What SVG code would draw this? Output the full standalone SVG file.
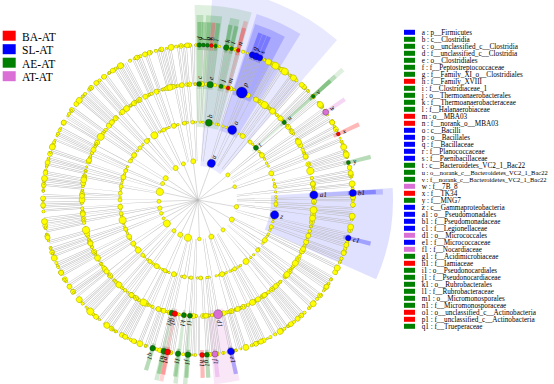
<svg xmlns="http://www.w3.org/2000/svg" width="554" height="384" viewBox="0 0 554 384">
<style>
text{font-family:"Liberation Serif","Times New Roman",serif;fill:#000}
.lg{font-size:7.2px}
.sm{font-size:6.5px}
.gl{font-size:11.5px}
.lb{font-size:7px;font-style:italic}
.B{fill:#0000ff}.G{fill:#008000}.R{fill:#ff0000}.P{fill:#da70d6}
.nd{stroke:#222;stroke-width:0.3}
.y{fill:#ffff00;stroke:#a8a800;stroke-width:0.5}
.dr{fill:none;stroke-linecap:round}
.ko{stroke:#a8a800}.ky{stroke:#ffff00}
.pa{stroke-dasharray:0.01 2.1 0.01 3.4 0.01 1.5 0.01 2.8 0.01 4.2 0.01 1.7 0.01 2.5 0.01 3.9 0.01 1.3 0.01 2.2 0.01 5.1 0.01 1.8 0.01 2.6 0.01 3 0.01 1.4 0.01 4.6 0.01 2.3 0.01 1.9 0.01 3.3 0.01 2.7 0.01 1.6 0.01 4 0.01 2 0.01 3.6 0.01 1.5 0.01 2.4 0.01 6.2 0.01 1.7 0.01 2.9 0.01 3.1 0.01 1.4 0.01 2.2 0.01 3.8 0.01 1.9 0.01 2.5 0.01 4.4}
.pb{stroke-dasharray:0.01 4.5 0.01 7.2 0.01 3.1 0.01 9.4 0.01 5.6 0.01 2.8 0.01 8.1 0.01 6.3 0.01 3.9 0.01 10.2 0.01 5}
.pc{stroke-dasharray:0.01 1.9 0.01 3.3 0.01 2.4 0.01 5.2 0.01 1.6 0.01 4.1 0.01 2.9 0.01 6 0.01 3.5 0.01 2.2 0.01 4.8 0.01 1.8 0.01 3.1}
.w{fill:none}
.wB{stroke:#0000ff}.wG{stroke:#008000}.wR{stroke:#ff0000}.wP{stroke:#da70d6}
.ph{stroke-width:178;opacity:.09}
.cl{stroke-width:122;opacity:.12}
.or{stroke-width:74;opacity:.17}
.fa{stroke-width:28;opacity:.28}
.tk{fill:none;stroke:#b8b8b8}
.t1{stroke-dasharray:0.4 1.8 0.4 3.5 0.4 1.2 0.4 6 0.4 2.4 0.4 9 0.4 1.5 0.4 4}
.t2{stroke-dasharray:0.25 0.9 0.25 0.7 0.25 1.6 0.25 0.8 0.25 3.5 0.25 0.9 0.25 1.1 0.25 0.6 0.25 2.2 0.25 5 0.25 0.7 0.25 1.3}
.t3{stroke-dasharray:0.2 0.45 0.2 0.35 0.2 0.6 0.2 0.4 0.2 0.5 0.2 2.2 0.2 0.4 0.2 0.7 0.2 0.45 0.2 0.35 0.2 0.55 0.2 1.3 0.2 0.4 0.2 0.5 0.2 3.1 0.2 0.4 0.2 0.6 0.2 0.45}
.ln{stroke:#b8b8b8;stroke-width:0.5}
</style>
<rect width="554" height="384" fill="#fff"/>
<g id="cladogram" transform="translate(198,200)">
 <g id="shading">
  <circle class="w wB ph" r="123" pathLength="360" stroke-dasharray="37 400" transform="rotate(-86)"/>
  <circle class="w wG cl" r="134" pathLength="360" stroke-dasharray="17 400" transform="rotate(-91)"/>
  <circle class="w wB cl" r="134" pathLength="360" stroke-dasharray="14.2 400" transform="rotate(-72.5)"/>
  <circle class="w wG cl" r="134" pathLength="360" stroke-dasharray="1.4 400" transform="rotate(-42.7)"/>
  <circle class="w wB cl" r="134" pathLength="360" stroke-dasharray="27.5 400" transform="rotate(-3.5)"/>
  <circle class="w wG or" r="148" pathLength="360" stroke-dasharray="2.2 400" transform="rotate(-90.5)"/>
  <circle class="w wG or" r="148" pathLength="360" stroke-dasharray="5 400" transform="rotate(-87.5)"/>
  <circle class="w wG or" r="148" pathLength="360" stroke-dasharray="3 400" transform="rotate(-80)"/>
  <circle class="w wR or" r="148" pathLength="360" stroke-dasharray="1.4 400" transform="rotate(-75.7)"/>
  <circle class="w wB or" r="148" pathLength="360" stroke-dasharray="10 400" transform="rotate(-72)"/>
  <circle class="w wG or" r="148" pathLength="360" stroke-dasharray="1.4 400" transform="rotate(-42.7)"/>
  <circle class="w wB or" r="148" pathLength="360" stroke-dasharray="1.6 400" transform="rotate(-3.3)"/>
  <circle class="w wP or" r="148" pathLength="360" stroke-dasharray="8 400" transform="rotate(77)"/>
  <circle class="w wG or" r="148" pathLength="360" stroke-dasharray="1.4 400" transform="rotate(93.3)"/>
  <circle class="w wG or" r="148" pathLength="360" stroke-dasharray="1.4 400" transform="rotate(96.3)"/>
  <circle class="w wR or" r="148" pathLength="360" stroke-dasharray="1.4 400" transform="rotate(100.8)"/>
  <circle class="w wG or" r="148" pathLength="360" stroke-dasharray="1.4 400" transform="rotate(102.3)"/>
  <g id="family-bars">
   <circle class="w wG fa" r="164" pathLength="360" stroke-dasharray="1.4 400" transform="rotate(-90.2)"/>
   <circle class="w wG fa" r="164" pathLength="360" stroke-dasharray="1.4 400" transform="rotate(-88.7)"/>
   <circle class="w wG fa" r="164" pathLength="360" stroke-dasharray="1.4 400" transform="rotate(-87.2)"/>
   <circle class="w wR fa" r="164" pathLength="360" stroke-dasharray="1.4 400" transform="rotate(-85.7)"/>
   <circle class="w wG fa" r="164" pathLength="360" stroke-dasharray="1.4 400" transform="rotate(-84.2)"/>
   <circle class="w wG fa" r="164" pathLength="360" stroke-dasharray="1.4 400" transform="rotate(-80.2)"/>
   <circle class="w wG fa" r="164" pathLength="360" stroke-dasharray="1.4 400" transform="rotate(-78.2)"/>
   <circle class="w wR fa" r="164" pathLength="360" stroke-dasharray="1.4 400" transform="rotate(-75.7)"/>
   <circle class="w wB fa" r="164" pathLength="360" stroke-dasharray="1.4 400" transform="rotate(-70.2)"/>
   <circle class="w wB fa" r="164" pathLength="360" stroke-dasharray="1.4 400" transform="rotate(-68.7)"/>
   <circle class="w wB fa" r="164" pathLength="360" stroke-dasharray="1.4 400" transform="rotate(-67.2)"/>
   <circle class="w wG fa" r="164" pathLength="360" stroke-dasharray="1.4 400" transform="rotate(-42.7)"/>
   <circle class="w wP fa" r="164" pathLength="360" stroke-dasharray="1.4 400" transform="rotate(-35.2)"/>
   <circle class="w wR fa" r="164" pathLength="360" stroke-dasharray="1.4 400" transform="rotate(-25.9)"/>
   <circle class="w wG fa" r="164" pathLength="360" stroke-dasharray="1.4 400" transform="rotate(-14.7)"/>
   <circle class="w wB fa" r="164" pathLength="360" stroke-dasharray="1.4 400" transform="rotate(-3.3)"/>
   <circle class="w wB fa" r="164" pathLength="360" stroke-dasharray="1.4 400" transform="rotate(13.5)"/>
   <circle class="w wB fa" r="164" pathLength="360" stroke-dasharray="1.4 400" transform="rotate(77)"/>
   <circle class="w wP fa" r="164" pathLength="360" stroke-dasharray="1.4 400" transform="rotate(83)"/>
   <circle class="w wG fa" r="164" pathLength="360" stroke-dasharray="1.4 400" transform="rotate(86)"/>
   <circle class="w wR fa" r="164" pathLength="360" stroke-dasharray="1.4 400" transform="rotate(87.8)"/>
   <circle class="w wG fa" r="164" pathLength="360" stroke-dasharray="1.4 400" transform="rotate(93)"/>
   <circle class="w wG fa" r="164" pathLength="360" stroke-dasharray="1.4 400" transform="rotate(96.7)"/>
   <circle class="w wR fa" r="164" pathLength="360" stroke-dasharray="1.4 400" transform="rotate(100.6)"/>
   <circle class="w wG fa" r="164" pathLength="360" stroke-dasharray="1.4 400" transform="rotate(102)"/>
   <circle class="w wG fa" r="164" pathLength="360" stroke-dasharray="1.4 400" transform="rotate(106.3)"/>
  </g>
 </g>
 <g id="connectors">
  <circle class="tk t1" r="58.5" stroke-width="39" pathLength="360"/>
  <circle class="tk t2" r="97" stroke-width="38" pathLength="360" style="stroke-dashoffset:7"/>
  <circle class="tk t3" r="135.5" stroke-width="39" pathLength="360" style="stroke-dashoffset:3"/>
  <g class="ln">
   <line x2="39" transform="rotate(-168)"/><line x2="39" transform="rotate(178)"/><line x2="39" transform="rotate(168)"/><line x2="39" transform="rotate(160)"/><line x2="39" transform="rotate(152)"/><line x2="39" transform="rotate(143)"/><line x2="39" transform="rotate(128)"/><line x2="39" transform="rotate(117)"/><line x2="39" transform="rotate(105)"/><line x2="39" transform="rotate(88)"/><line x2="39" transform="rotate(70)"/><line x2="39" transform="rotate(50)"/><line x2="39" transform="rotate(30)"/><line x2="39" transform="rotate(10)"/><line x2="39" transform="rotate(-20)"/><line x2="39" transform="rotate(-40)"/><line x2="39" transform="rotate(-70)"/><line x2="39" transform="rotate(-97)"/><line x2="39" transform="rotate(-112)"/><line x2="39" transform="rotate(-125)"/><line x2="39" transform="rotate(-146)"/><line x2="39" transform="rotate(-155)"/>
  </g>
 </g>
 <g id="ring-dots">
  <circle class="dr ko pa" r="155" stroke-width="3.6" pathLength="360"/>
  <circle class="dr ky pa" r="155" stroke-width="2.8" pathLength="360"/>
  <circle class="dr ko pb" r="155" stroke-width="5.2" pathLength="360" style="stroke-dashoffset:13"/>
  <circle class="dr ky pb" r="155" stroke-width="4.4" pathLength="360" style="stroke-dashoffset:13"/>
  <circle class="dr ko pc" r="155" stroke-width="2.6" pathLength="360" style="stroke-dashoffset:7"/>
  <circle class="dr ky pc" r="155" stroke-width="1.8" pathLength="360" style="stroke-dashoffset:7"/>
  <circle class="dr ko pa" r="116" stroke-width="3.8" pathLength="360" style="stroke-dashoffset:31"/>
  <circle class="dr ky pa" r="116" stroke-width="3" pathLength="360" style="stroke-dashoffset:31"/>
  <circle class="dr ko pb" r="116" stroke-width="5.4" pathLength="360" style="stroke-dashoffset:40"/>
  <circle class="dr ky pb" r="116" stroke-width="4.6" pathLength="360" style="stroke-dashoffset:40"/>
  <circle class="dr ko pc" r="116" stroke-width="2.6" pathLength="360" style="stroke-dashoffset:20"/>
  <circle class="dr ky pc" r="116" stroke-width="1.8" pathLength="360" style="stroke-dashoffset:20"/>
  <circle class="dr ko pc" r="78" stroke-width="2.8" pathLength="360" style="stroke-dashoffset:17"/>
  <circle class="dr ky pc" r="78" stroke-width="2" pathLength="360" style="stroke-dashoffset:17"/>
  <g id="phylum-dots">
   <circle class="y" r="3.5" cx="39" transform="rotate(-168)"/><circle class="y" r="2" cx="39" transform="rotate(178)"/><circle class="y" r="2.2" cx="39" transform="rotate(168)"/><circle class="y" r="1.8" cx="39" transform="rotate(160)"/><circle class="y" r="1.5" cx="39" transform="rotate(152)"/><circle class="y" r="3.5" cx="39" transform="rotate(143)"/><circle class="y" r="2" cx="39" transform="rotate(128)"/><circle class="y" r="2.5" cx="39" transform="rotate(117)"/><circle class="y" r="3.5" cx="39" transform="rotate(105)"/><circle class="y" r="1.8" cx="39" transform="rotate(88)"/><circle class="y" r="2.5" cx="39" transform="rotate(70)"/><circle class="y" r="2" cx="39" transform="rotate(50)"/><circle class="y" r="2.5" cx="39" transform="rotate(30)"/><circle class="y" r="2.2" cx="39" transform="rotate(10)"/><circle class="y" r="1.8" cx="39" transform="rotate(-20)"/><circle class="y" r="2" cx="39" transform="rotate(-40)"/><circle class="y" r="2.5" cx="39" transform="rotate(-97)"/><circle class="y" r="2" cx="39" transform="rotate(-112)"/><circle class="y" r="2.5" cx="39" transform="rotate(-125)"/><circle class="y" r="2.5" cx="39" transform="rotate(-146)"/><circle class="y" r="2" cx="39" transform="rotate(-155)"/>
  </g>
  <g id="class-dots">
   <circle class="y" r="2" cx="78" transform="rotate(-170)"/><circle class="y" r="2.5" cx="78" transform="rotate(-163)"/><circle class="y" r="2" cx="78" transform="rotate(-158)"/><circle class="y" r="2" cx="78" transform="rotate(-150)"/><circle class="y" r="2.5" cx="78" transform="rotate(-145)"/><circle class="y" r="2" cx="78" transform="rotate(-138)"/><circle class="y" r="2.5" cx="78" transform="rotate(-131)"/><circle class="y" r="3.5" cx="78" transform="rotate(-124)"/><circle class="y" r="2" cx="78" transform="rotate(-116)"/><circle class="y" r="2.5" cx="78" transform="rotate(-108)"/><circle class="y" r="2" cx="78" transform="rotate(-100)"/><circle class="y" r="1.8" cx="78" transform="rotate(-94)"/><circle class="y" r="2.5" cx="78" transform="rotate(-55)"/><circle class="y" r="2" cx="78" transform="rotate(-48)"/><circle class="y" r="2.5" cx="78" transform="rotate(-35)"/><circle class="y" r="2.5" cx="78" transform="rotate(-20)"/><circle class="y" r="1.8" cx="78" transform="rotate(-10)"/><circle class="y" r="2" cx="78" transform="rotate(3)"/><circle class="y" r="2" cx="78" transform="rotate(20)"/><circle class="y" r="2.5" cx="78" transform="rotate(31)"/><circle class="y" r="2" cx="78" transform="rotate(40)"/><circle class="y" r="3" cx="78" transform="rotate(52)"/><circle class="y" r="2" cx="78" transform="rotate(62)"/><circle class="y" r="2.5" cx="78" transform="rotate(72)"/><circle class="y" r="2" cx="78" transform="rotate(88)"/><circle class="y" r="1.8" cx="78" transform="rotate(95)"/><circle class="y" r="2" cx="78" transform="rotate(100)"/><circle class="y" r="2.5" cx="78" transform="rotate(108)"/><circle class="y" r="2" cx="78" transform="rotate(115)"/><circle class="y" r="2.5" cx="78" transform="rotate(122)"/><circle class="y" r="2" cx="78" transform="rotate(128)"/><circle class="y" r="2" cx="78" transform="rotate(135)"/><circle class="y" r="3" cx="78" transform="rotate(140)"/><circle class="y" r="2.5" cx="78" transform="rotate(146)"/><circle class="y" r="2.5" cx="78" transform="rotate(152)"/><circle class="y" r="2" cx="78" transform="rotate(158)"/><circle class="y" r="3.5" cx="78" transform="rotate(165)"/><circle class="y" r="2" cx="78" transform="rotate(170)"/><circle class="y" r="2.5" cx="78" transform="rotate(175)"/><circle class="y" r="2" cx="78" transform="rotate(180)"/><circle class="y" r="2" cx="78" transform="rotate(-175)"/>
  </g>
  <g id="order-dots">
   <circle class="y" r="3" cx="116" transform="rotate(-170)"/><circle class="y" r="2.5" cx="116" transform="rotate(-160)"/><circle class="y" r="3.5" cx="116" transform="rotate(-147)"/><circle class="y" r="2.5" cx="116" transform="rotate(-138)"/><circle class="y" r="3" cx="116" transform="rotate(-128)"/><circle class="y" r="2.5" cx="116" transform="rotate(-117)"/><circle class="y" r="3" cx="116" transform="rotate(-104)"/><circle class="y" r="2.5" cx="116" transform="rotate(-98)"/><circle class="y" r="2.5" cx="116" transform="rotate(-60)"/><circle class="y" r="3.5" cx="116" transform="rotate(-55)"/><circle class="y" r="3" cx="116" transform="rotate(-50)"/><circle class="y" r="3" cx="116" transform="rotate(-30)"/><circle class="y" r="2.5" cx="116" transform="rotate(-22)"/><circle class="y" r="3.5" cx="116" transform="rotate(-14.5)"/><circle class="y" r="2.5" cx="116" transform="rotate(-8)"/><circle class="y" r="3.5" cx="116" transform="rotate(5)"/><circle class="y" r="3" cx="116" transform="rotate(9)"/><circle class="y" r="2.5" cx="116" transform="rotate(18)"/><circle class="y" r="2.5" cx="116" transform="rotate(25)"/><circle class="y" r="3" cx="116" transform="rotate(33)"/><circle class="y" r="3" cx="116" transform="rotate(40)"/><circle class="y" r="2.5" cx="116" transform="rotate(48)"/><circle class="y" r="2.5" cx="116" transform="rotate(55)"/><circle class="y" r="3" cx="116" transform="rotate(62)"/><circle class="y" r="2.5" cx="116" transform="rotate(70)"/><circle class="y" r="2.5" cx="116" transform="rotate(86)"/><circle class="y" r="2.5" cx="116" transform="rotate(110)"/><circle class="y" r="3.5" cx="116" transform="rotate(118)"/><circle class="y" r="2.5" cx="116" transform="rotate(125)"/><circle class="y" r="3" cx="116" transform="rotate(133)"/><circle class="y" r="2.5" cx="116" transform="rotate(142)"/><circle class="y" r="3" cx="116" transform="rotate(150)"/><circle class="y" r="2.5" cx="116" transform="rotate(158)"/><circle class="y" r="3.5" cx="116" transform="rotate(165)"/><circle class="y" r="2.5" cx="116" transform="rotate(173)"/><circle class="y" r="3" cx="116" transform="rotate(180)"/><circle class="y" r="2.5" cx="116" transform="rotate(-178)"/>
  </g>
  <g id="family-dots">
   <circle class="y" r="3" cx="155" transform="rotate(-160)"/><circle class="y" r="2.5" cx="155" transform="rotate(-150)"/><circle class="y" r="3" cx="155" transform="rotate(-140)"/><circle class="y" r="2.5" cx="155" transform="rotate(-131)"/><circle class="y" r="3" cx="155" transform="rotate(-120)"/><circle class="y" r="2.5" cx="155" transform="rotate(-110)"/><circle class="y" r="3" cx="155" transform="rotate(-100)"/><circle class="y" r="2.5" cx="155" transform="rotate(-94)"/><circle class="y" r="3" cx="155" transform="rotate(-63)"/><circle class="y" r="3.5" cx="155" transform="rotate(-60)"/><circle class="y" r="3.5" cx="155" transform="rotate(-56)"/><circle class="y" r="3" cx="155" transform="rotate(-52)"/><circle class="y" r="2.5" cx="155" transform="rotate(-48)"/><circle class="y" r="3" cx="155" transform="rotate(-38)"/><circle class="y" r="2.5" cx="155" transform="rotate(-30)"/><circle class="y" r="3" cx="155" transform="rotate(-20)"/><circle class="y" r="3" cx="155" transform="rotate(-17)"/><circle class="y" r="2.5" cx="155" transform="rotate(-10)"/><circle class="y" r="3" cx="155" transform="rotate(-6)"/><circle class="y" r="2.5" cx="155" transform="rotate(-1)"/><circle class="y" r="3" cx="155" transform="rotate(6)"/><circle class="y" r="3" cx="155" transform="rotate(10)"/><circle class="y" r="2.5" cx="155" transform="rotate(20)"/><circle class="y" r="3" cx="155" transform="rotate(26)"/><circle class="y" r="2.5" cx="155" transform="rotate(34)"/><circle class="y" r="3" cx="155" transform="rotate(42)"/><circle class="y" r="2.5" cx="155" transform="rotate(50)"/><circle class="y" r="3" cx="155" transform="rotate(58)"/><circle class="y" r="2.5" cx="155" transform="rotate(66)"/><circle class="y" r="3" cx="155" transform="rotate(72)"/><circle class="y" r="3" cx="155" transform="rotate(112)"/><circle class="y" r="2.5" cx="155" transform="rotate(118)"/><circle class="y" r="3" cx="155" transform="rotate(126)"/><circle class="y" r="3.5" cx="155" transform="rotate(134)"/><circle class="y" r="3" cx="155" transform="rotate(140)"/><circle class="y" r="2.5" cx="155" transform="rotate(146)"/><circle class="y" r="2.5" cx="155" transform="rotate(152)"/><circle class="y" r="3" cx="155" transform="rotate(158)"/><circle class="y" r="2.5" cx="155" transform="rotate(166)"/><circle class="y" r="3" cx="155" transform="rotate(172)"/><circle class="y" r="2.5" cx="155" transform="rotate(178)"/><circle class="y" r="3" cx="155" transform="rotate(-172)"/><circle class="y" r="2.5" cx="155" transform="rotate(-166)"/>
  </g>
 </g>
 <g id="biomarkers">
  <g id="node-a" transform="rotate(-70)"><circle class="B nd" cx="39" r="4"/><text class="lb" x="44" y="2.4">a</text></g>
  <g id="node-b" transform="rotate(-82)"><circle class="G nd" cx="78" r="3.5"/><text class="lb" x="83" y="2.4">b</text></g>
  <g id="node-o" transform="rotate(-64)"><circle class="B nd" cx="78" r="4.5"/><text class="lb" x="84" y="2.4">o</text></g>
  <g id="node-t" transform="rotate(-42)"><circle class="G nd" cx="78" r="2.5"/><text class="lb" x="82" y="2.4">t</text></g>
  <g id="node-z" transform="rotate(11)"><circle class="B nd" cx="78" r="4.2"/><text class="lb" x="84" y="2.4">z</text></g>
  <g id="node-c" transform="rotate(-89.4)"><circle class="G nd" cx="116" r="2.5"/><text class="lb" x="121" y="2.4">c</text></g>
  <g id="node-e" transform="rotate(-84)"><circle class="G nd" cx="116" r="3.2"/><text class="lb" x="121" y="2.4">e</text></g>
  <g id="node-j" transform="rotate(-78.5)"><circle class="G nd" cx="116" r="2.2"/><text class="lb" x="121" y="2.4">j</text></g>
  <g id="node-m" transform="rotate(-75)"><circle class="R nd" cx="116" r="2"/><text class="lb" x="121" y="2.4">m</text></g>
  <g id="node-p" transform="rotate(-67.8)"><circle class="B nd" cx="116" r="5.5"/><text class="lb" x="123" y="2.4">p</text></g>
  <g id="node-u" transform="rotate(-42)"><circle class="G nd" cx="116" r="2.2"/><text class="lb" x="121" y="2.4">u</text></g>
  <g id="node-a1" transform="rotate(-2.5)"><circle class="B nd" cx="116" r="4"/><text class="lb" x="122" y="2.4">a1</text></g>
  <g id="node-d1" transform="rotate(80)"><circle class="P nd" cx="116" r="4.5"/><text class="lb" x="122" y="2.4">d1</text></g>
  <g id="node-i1" transform="rotate(94)"><circle class="G nd" cx="116" r="2.5"/><text class="lb" x="121" y="2.4">i1</text></g>
  <g id="node-k1" transform="rotate(97)"><circle class="G nd" cx="116" r="2.5"/><text class="lb" x="121" y="2.4">k1</text></g>
  <g id="node-m1" transform="rotate(103)"><circle class="G nd" cx="116" r="2.8"/><text class="lb" x="121" y="2.4">m1</text></g>
  <g id="node-o1" transform="rotate(101.5)"><circle class="R nd" cx="116" r="2.8"/><text class="lb" x="121" y="2.4">o1</text></g>
  <g id="node-d" transform="rotate(-89.5)"><circle class="G nd" cx="155" r="2.3"/><text class="lb" x="160" y="2.4">d</text></g>
  <g id="node-f" transform="rotate(-88)"><circle class="G nd" cx="155" r="2"/><text class="lb" x="160" y="2.4">f</text></g>
  <g id="node-g" transform="rotate(-86.5)"><circle class="G nd" cx="155" r="2"/><text class="lb" x="160" y="2.4">g</text></g>
  <g id="node-h" transform="rotate(-85)"><circle class="R nd" cx="155" r="2"/><text class="lb" x="160" y="2.4">h</text></g>
  <g id="node-i" transform="rotate(-83.5)"><circle class="G nd" cx="155" r="2"/><text class="lb" x="160" y="2.4">i</text></g>
  <g id="node-k" transform="rotate(-79.5)"><circle class="G nd" cx="155" r="2.8"/><text class="lb" x="160" y="2.4">k</text></g>
  <g id="node-l" transform="rotate(-77.5)"><circle class="G nd" cx="155" r="2"/><text class="lb" x="160" y="2.4">l</text></g>
  <g id="node-n" transform="rotate(-75)"><circle class="R nd" cx="155" r="2"/><text class="lb" x="160" y="2.4">n</text></g>
  <g id="node-q" transform="rotate(-69.5)"><circle class="B nd" cx="155" r="3"/><text class="lb" x="160" y="2.4">q</text></g>
  <g id="node-r" transform="rotate(-68)"><circle class="B nd" cx="155" r="3.5"/><text class="lb" x="160" y="2.4">r</text></g>
  <g id="node-s" transform="rotate(-66.5)"><circle class="B nd" cx="155" r="3"/><text class="lb" x="160" y="2.4">s</text></g>
  <g id="node-v" transform="rotate(-42)"><circle class="G nd" cx="155" r="2"/><text class="lb" x="160" y="2.4">v</text></g>
  <g id="node-w" transform="rotate(-34.5)"><circle class="P nd" cx="155" r="3"/><text class="lb" x="160" y="2.4">w</text></g>
  <g id="node-x" transform="rotate(-25.2)"><circle class="R nd" cx="155" r="2"/><text class="lb" x="160" y="2.4">x</text></g>
  <g id="node-y" transform="rotate(-14)"><circle class="G nd" cx="155" r="2"/><text class="lb" x="160" y="2.4">y</text></g>
  <g id="node-b1" transform="rotate(-2.6)"><circle class="B nd" cx="155" r="3.5"/><text class="lb" x="160" y="2.4">b1</text></g>
  <g id="node-c1" transform="rotate(14.2)"><circle class="B nd" cx="155" r="2.8"/><text class="lb" x="160" y="2.4">c1</text></g>
  <g id="node-e1" transform="rotate(77.7)"><circle class="B nd" cx="155" r="3.5"/><text class="lb" x="160" y="2.4">e1</text></g>
  <g id="node-f1" transform="rotate(83.7)"><circle class="P nd" cx="155" r="3"/><text class="lb" x="160" y="2.4">f1</text></g>
  <g id="node-g1" transform="rotate(86.7)"><circle class="G nd" cx="155" r="2.5"/><text class="lb" x="160" y="2.4">g1</text></g>
  <g id="node-h1" transform="rotate(88.5)"><circle class="R nd" cx="155" r="2.5"/><text class="lb" x="160" y="2.4">h1</text></g>
  <g id="node-j1" transform="rotate(93.7)"><circle class="G nd" cx="155" r="2.8"/><text class="lb" x="160" y="2.4">j1</text></g>
  <g id="node-l1" transform="rotate(97.4)"><circle class="G nd" cx="155" r="2.8"/><text class="lb" x="160" y="2.4">l1</text></g>
  <g id="node-n1" transform="rotate(102.7)"><circle class="G nd" cx="155" r="3"/><text class="lb" x="160" y="2.4">n1</text></g>
  <g id="node-p1" transform="rotate(101.3)"><circle class="R nd" cx="155" r="3"/><text class="lb" x="160" y="2.4">p1</text></g>
  <g id="node-q1" transform="rotate(107)"><circle class="G nd" cx="155" r="2.8"/><text class="lb" x="160" y="2.4">q1</text></g>
 </g>
</g>
<g id="legend-groups">
 <rect x="2.7" y="30.7" width="13" height="10" fill="#ff0000"/><text class="gl" x="22" y="40.7">BA-AT</text>
 <rect x="2.7" y="44.2" width="13" height="10" fill="#0000ff"/><text class="gl" x="22" y="54.2">SL-AT</text>
 <rect x="2.7" y="57.7" width="13" height="10" fill="#008000"/><text class="gl" x="22" y="67.7">AE-AT</text>
 <rect x="2.7" y="71.2" width="13" height="10" fill="#da70d6"/><text class="gl" x="22" y="81.2">AT-AT</text>
</g>
<g id="legend-taxa">
 <g class="B"><rect x="404" y="29.8" width="11" height="5"/><rect x="404" y="127.8" width="11" height="5"/><rect x="404" y="134.8" width="11" height="5"/><rect x="404" y="141.8" width="11" height="5"/><rect x="404" y="148.8" width="11" height="5"/><rect x="404" y="155.8" width="11" height="5"/><rect x="404" y="204.8" width="11" height="5"/><rect x="404" y="211.8" width="11" height="5"/><rect x="404" y="218.8" width="11" height="5"/><rect x="404" y="225.8" width="11" height="5"/><rect x="404" y="239.8" width="11" height="5"/></g>
 <g class="G"><rect x="404" y="36.8" width="11" height="5"/><rect x="404" y="43.8" width="11" height="5"/><rect x="404" y="50.8" width="11" height="5"/><rect x="404" y="57.8" width="11" height="5"/><rect x="404" y="64.8" width="11" height="5"/><rect x="404" y="71.8" width="11" height="5"/><rect x="404" y="85.8" width="11" height="5"/><rect x="404" y="92.8" width="11" height="5"/><rect x="404" y="99.8" width="11" height="5"/><rect x="404" y="106.8" width="11" height="5"/><rect x="404" y="162.8" width="11" height="5"/><rect x="404" y="169.8" width="11" height="5"/><rect x="404" y="176.8" width="11" height="5"/><rect x="404" y="197.8" width="11" height="5"/><rect x="404" y="253.8" width="11" height="5"/><rect x="404" y="267.8" width="11" height="5"/><rect x="404" y="274.8" width="11" height="5"/><rect x="404" y="281.8" width="11" height="5"/><rect x="404" y="288.8" width="11" height="5"/><rect x="404" y="295.8" width="11" height="5"/><rect x="404" y="302.8" width="11" height="5"/><rect x="404" y="323.8" width="11" height="5"/></g>
 <g class="R"><rect x="404" y="78.8" width="11" height="5"/><rect x="404" y="113.8" width="11" height="5"/><rect x="404" y="120.8" width="11" height="5"/><rect x="404" y="190.8" width="11" height="5"/><rect x="404" y="260.8" width="11" height="5"/><rect x="404" y="309.8" width="11" height="5"/><rect x="404" y="316.8" width="11" height="5"/></g>
 <g class="P"><rect x="404" y="183.8" width="11" height="5"/><rect x="404" y="232.8" width="11" height="5"/><rect x="404" y="246.8" width="11" height="5"/></g>
 <g class="lg">
  <text x="421.7" y="34.9">a : p__Firmicutes</text>
  <text x="421.7" y="41.9">b : c__Clostridia</text>
  <text x="421.7" y="48.9">c : o__unclassified_c__Clostridia</text>
  <text x="421.7" y="55.9">d : f__unclassified_c__Clostridia</text>
  <text x="421.7" y="62.9">e : o__Clostridiales</text>
  <text x="421.7" y="69.9">f : f__Peptostreptococcaceae</text>
  <text x="421.7" y="76.9">g : f__Family_XI_o__Clostridiales</text>
  <text x="421.7" y="83.9">h : f__Family_XVIII</text>
  <text x="421.7" y="90.9">i : f__Clostridiaceae_1</text>
  <text x="421.7" y="97.9">j : o__Thermoanaerobacterales</text>
  <text x="421.7" y="104.9">k : f__Thermoanaerobacteraceae</text>
  <text x="421.7" y="111.9">l : f__Halanaerobiaceae</text>
  <text x="421.7" y="118.9">m : o__MBA03</text>
  <text x="421.7" y="125.9">n : f__norank_o__MBA03</text>
  <text x="421.7" y="132.9">o : c__Bacilli</text>
  <text x="421.7" y="139.9">p : o__Bacillales</text>
  <text x="421.7" y="146.9">q : f__Bacillaceae</text>
  <text x="421.7" y="153.9">r : f__Planococcaceae</text>
  <text x="421.7" y="160.9">s : f__Paenibacillaceae</text>
  <text x="421.7" y="167.9">t : c__Bacteroidetes_VC2_1_Bac22</text>
  <text class="sm" x="421.7" y="174.9">u : o__norank_c__Bacteroidetes_VC2_1_Bac22</text>
  <text class="sm" x="421.7" y="181.9">v : f__norank_c__Bacteroidetes_VC2_1_Bac22</text>
  <text x="421.7" y="188.9">w : f__7B_8</text>
  <text x="421.7" y="195.9">x : f__TK34</text>
  <text x="421.7" y="202.9">y : f__MNG7</text>
  <text x="421.7" y="209.9">z : c__Gammaproteobacteria</text>
  <text x="421.7" y="216.9">a1 : o__Pseudomonadales</text>
  <text x="421.7" y="223.9">b1 : f__Pseudomonadaceae</text>
  <text x="421.7" y="230.9">c1 : f__Legionellaceae</text>
  <text x="421.7" y="237.9">d1 : o__Micrococcales</text>
  <text x="421.7" y="244.9">e1 : f__Micrococcaceae</text>
  <text x="421.7" y="251.9">f1 : f__Nocardiaceae</text>
  <text x="421.7" y="258.9">g1 : f__Acidimicrobiaceae</text>
  <text x="421.7" y="265.9">h1 : f__Iamiaceae</text>
  <text x="421.7" y="272.9">i1 : o__Pseudonocardiales</text>
  <text x="421.7" y="279.9">j1 : f__Pseudonocardiaceae</text>
  <text x="421.7" y="286.9">k1 : o__Rubrobacterales</text>
  <text x="421.7" y="293.9">l1 : f__Rubrobacteraceae</text>
  <text x="421.7" y="300.9">m1 : o__Micromonosporales</text>
  <text x="421.7" y="307.9">n1 : f__Micromonosporaceae</text>
  <text x="421.7" y="314.9">o1 : o__unclassified_c__Actinobacteria</text>
  <text x="421.7" y="321.9">p1 : f__unclassified_c__Actinobacteria</text>
  <text x="421.7" y="328.9">q1 : f__Trueperaceae</text>
 </g>
</g>
</svg>
